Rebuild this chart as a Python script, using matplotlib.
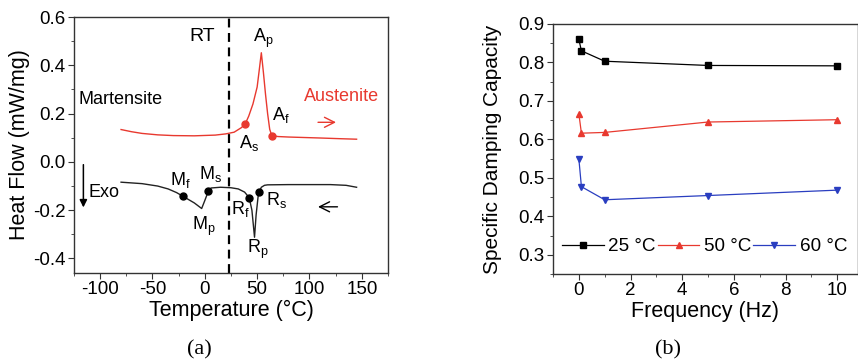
import numpy as np
import matplotlib.pyplot as plt

plt.rcParams['font.family'] = ['Liberation Sans', 'DejaVu Sans']
plt.rcParams['mathtext.default'] = 'regular'
plt.rcParams['axes.unicode_minus'] = False

# DSC heating curve (red) and cooling curve (black)
heat_T = [-80, -70, -60, -45, -30, -10, 10, 20, 28, 35, 38.7, 42, 46, 50, 52, 54,
          56, 58, 60, 62, 64, 70, 80, 110, 130, 145]
heat_Q = [0.134, 0.125, 0.118, 0.112, 0.109, 0.108, 0.111, 0.116, 0.123, 0.142, 0.158,
          0.19, 0.24, 0.31, 0.38, 0.452, 0.37, 0.28, 0.2, 0.135, 0.109, 0.105, 0.103,
          0.099, 0.096, 0.094]
cool_T = [-80, -60, -45, -35, -27, -21, -10, -3, 0, 3.4, 6, 15, 25, 32, 38, 42.4, 45,
          47.5, 49, 51, 52, 54, 57, 60, 80, 120, 135, 145]
cool_Q = [-0.084, -0.09, -0.1, -0.112, -0.127, -0.142, -0.17, -0.193, -0.16, -0.121,
          -0.108, -0.105, -0.107, -0.112, -0.125, -0.148, -0.2, -0.312, -0.22, -0.14,
          -0.124, -0.105, -0.097, -0.095, -0.094, -0.094, -0.097, -0.105]

# transformation points
heat_pts_T = [38.7, 64]
heat_pts_Q = [0.158, 0.109]
cool_pts_T = [-21, 3.4, 42.4, 52]
cool_pts_Q = [-0.142, -0.121, -0.148, -0.124]
room_T = 23

# damping capacity vs frequency
freq = [0, 0.1, 1, 5, 10]
sdc_25 = [0.86, 0.83, 0.803, 0.792, 0.791]
sdc_50 = [0.667, 0.616, 0.618, 0.645, 0.651]
sdc_60 = [0.55, 0.477, 0.443, 0.454, 0.468]

fig = plt.figure(figsize=(8.58, 3.62), dpi=100)
ax1 = fig.add_axes([0.0862, 0.2459, 0.3660, 0.7071])
ax2 = fig.add_axes([0.6445, 0.243, 0.3555, 0.691])

red = '#e8392f'
for ax in (ax1, ax2):
    for s in ax.spines.values():
        s.set_linewidth(1.0)
        s.set_color('#333333')
    ax.tick_params(which='both', direction='out', labelsize=13.5, pad=2, color='#333333')
    ax.tick_params(which='major', length=4)
    ax.tick_params(which='minor', length=2.5)

# (a) DSC
ax1.plot(heat_T, heat_Q, color=red, lw=1.0)
ax1.plot(cool_T, cool_Q, color='#222222', lw=1.0)
ax1.plot(heat_pts_T, heat_pts_Q, 'o', color=red, ms=5)
ax1.plot(cool_pts_T, cool_pts_Q, 'o', color='black', ms=5)
ax1.axvline(room_T, color='black', ls=(0, (4, 2.5)), lw=1.6)
ax1.set_xlim(-125, 175)
ax1.set_ylim(-0.46, 0.6)
ax1.set_xticks([-100, -50, 0, 50, 100, 150])
ax1.set_xticks(np.arange(-125, 176, 25), minor=True)
ax1.set_yticks([-0.4, -0.2, 0.0, 0.2, 0.4, 0.6])
ax1.set_yticks(np.arange(-0.4, 0.61, 0.1), minor=True)
ax1.set_yticklabels(['-0.4', '-0.2', '0.0', '0.2', '0.4', '0.6'])
ax1.set_xlabel('Temperature (°C)', fontsize=15.5, labelpad=1)
ax1.set_ylabel('Heat Flow (mW/mg)', fontsize=15.5, labelpad=2)

fs = 13
ax1.text(-2.8, 0.52, 'RT', fontsize=14, ha='center', va='center')
ax1.text(56, 0.513, 'A$_p$', fontsize=fs, ha='center', va='center')
ax1.text(-120.7, 0.258, 'Martensite', fontsize=fs, ha='left', va='center')
ax1.text(94.4, 0.271, 'Austenite', fontsize=fs, ha='left', va='center', color=red)
ax1.text(64, 0.196, 'A$_f$', fontsize=fs, ha='left', va='center')
ax1.text(32.3, 0.079, 'A$_s$', fontsize=fs, ha='left', va='center')
ax1.text(-111, -0.126, 'Exo', fontsize=fs, ha='left', va='center')
ax1.text(-33, -0.073, 'M$_f$', fontsize=fs, ha='left', va='center')
ax1.text(-5.3, -0.052, 'M$_s$', fontsize=fs, ha='left', va='center')
ax1.text(-12.3, -0.266, 'M$_p$', fontsize=fs, ha='left', va='center')
ax1.text(25.2, -0.197, 'R$_f$', fontsize=fs, ha='left', va='center')
ax1.text(58.4, -0.156, 'R$_s$', fontsize=fs, ha='left', va='center')
ax1.text(40.2, -0.363, 'R$_p$', fontsize=fs, ha='left', va='center')
ax1.annotate('', xy=(128, 0.164), xytext=(105.5, 0.164),
             arrowprops=dict(arrowstyle='->', color=red, lw=1.0, mutation_scale=18))
ax1.annotate('', xy=(105.5, -0.186), xytext=(129.4, -0.186),
             arrowprops=dict(arrowstyle='->', color='black', lw=1.0, mutation_scale=18))
ax1.annotate('', xy=(-116, -0.2), xytext=(-116, 0.0),
             arrowprops=dict(arrowstyle='-|>', color='black', lw=1.1, mutation_scale=11))

# (b) damping capacity
ax2.plot(freq, sdc_25, '-s', color='black', lw=0.9, ms=4.5, label='25 °C')
ax2.plot(freq, sdc_50, '-^', color=red, lw=0.9, ms=4.5, label='50 °C')
ax2.plot(freq, sdc_60, '-v', color='#2a3ec0', lw=0.9, ms=4.5, label='60 °C')
ax2.set_xlim(-1, 10.8)
ax2.set_ylim(0.25, 0.9)
ax2.set_xticks([0, 2, 4, 6, 8, 10])
ax2.set_xticks(np.arange(-1, 11, 1), minor=True)
ax2.set_yticks([0.3, 0.4, 0.5, 0.6, 0.7, 0.8, 0.9])
ax2.set_yticks(np.arange(0.25, 0.91, 0.05), minor=True)
ax2.set_xlabel('Frequency (Hz)', fontsize=15.5, labelpad=1)
ax2.set_ylabel('Specific Damping Capacity', fontsize=15, labelpad=12)
ax2.legend(loc='center left', bbox_to_anchor=(0.03, 0.11), ncol=3, frameon=False,
           fontsize=13.6, handlelength=2.2, handletextpad=0.25, columnspacing=0.1,
           borderpad=0, borderaxespad=0)

fig.text(0.232, 0.033, '(a)', fontsize=16, family=['Liberation Serif'], ha='center', va='center')
fig.text(0.779, 0.033, '(b)', fontsize=16, family=['Liberation Serif'], ha='center', va='center')

fig.savefig('out.png', dpi=100)
